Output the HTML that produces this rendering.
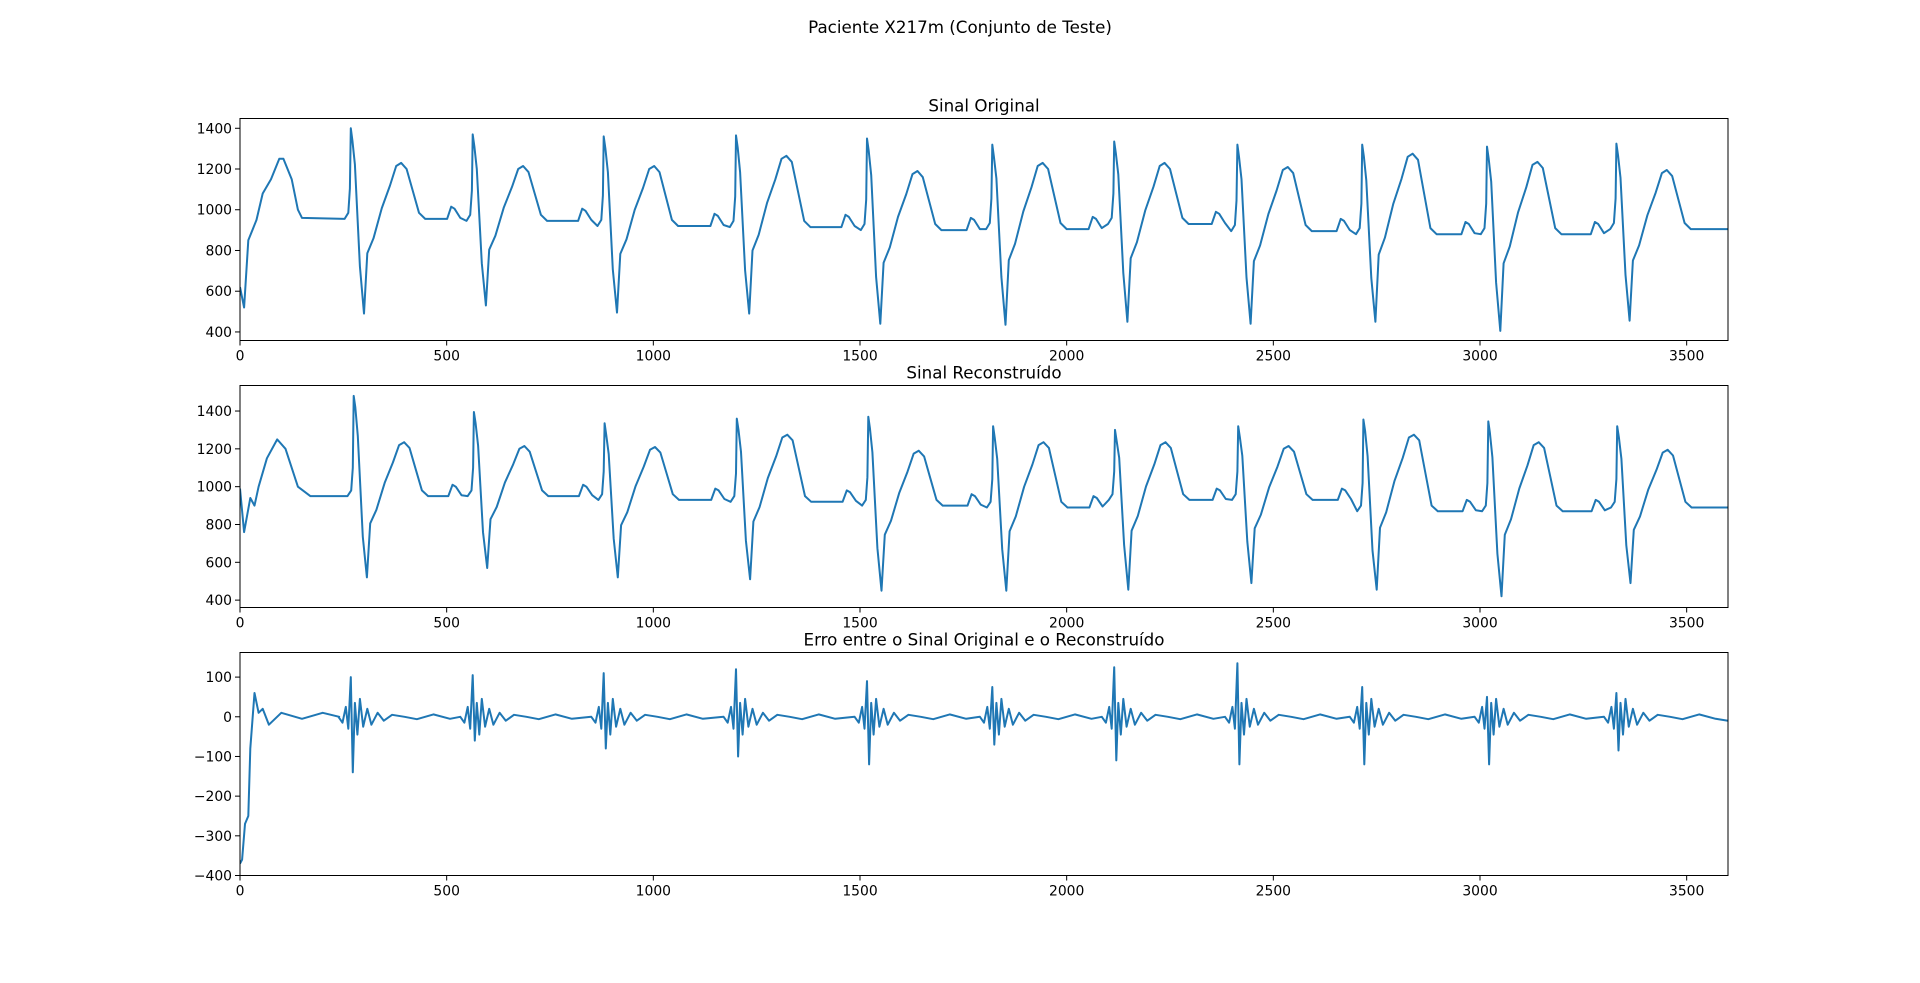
<!DOCTYPE html>
<html><head><meta charset="utf-8">
<style>
html,body{margin:0;padding:0;background:#fff;}
svg{display:block;font-family:"DejaVu Sans","Liberation Sans",sans-serif;}
</style></head>
<body>
<svg id="fig" width="1920" height="983" viewBox="0 0 1920 983" xmlns="http://www.w3.org/2000/svg">
<rect width="1920" height="983" fill="#fff"/>
<text x="960" y="33" font-size="16.7" text-anchor="middle">Paciente X217m (Conjunto de Teste)</text>
</svg>
<script>
// ---- data ----
const beatR   = [268,563,880,1200,1517,1820,2115,2413,2715,3017,3330];
const origRv  = [1400,1370,1360,1365,1350,1320,1335,1320,1320,1310,1325];
const origSv  = [490,530,495,490,440,435,450,440,450,405,455];
const origTv  = [1230,1215,1215,1265,1190,1230,1230,1210,1275,1235,1195];
const origBv  = [955,945,920,915,900,905,930,895,880,880,905];
const origStartX = [0,10,20,40,55,75,95,105,125,140,150];
const origStartY = [620,520,850,950,1080,1150,1250,1250,1150,1000,960];
const recRx   = [275,566,882,1202,1520,1822,2117,2415,2718,3020,3332];
const recRv   = [1480,1395,1335,1360,1370,1320,1300,1320,1355,1345,1320];
const recSv   = [520,570,520,510,450,450,455,490,455,420,490];
const recTv   = [1235,1215,1210,1275,1190,1235,1235,1215,1275,1235,1195];
const recBv   = [950,950,930,920,900,890,930,930,870,870,890];
const recStartX = [0,10,25,35,45,65,90,110,140,170];
const recStartY = [990,760,940,900,1000,1150,1250,1200,1000,950];
const errPos  = [100,105,110,120,90,75,125,135,75,50,60];
const errNeg  = [-140,-60,-80,-100,-120,-70,-110,-120,-120,-120,-85];
const errStartX = [0,5,12,20,25,35,45,55,70,100,150,200,240];
const errStartY = [-370,-360,-270,-250,-80,60,10,20,-20,10,-5,10,0];
const ticksX = [0,500,1000,1500,2000,2500,3000,3500];
const ticks1 = [400,600,800,1000,1200,1400];
const ticks3 = [-400,-300,-200,-100,0,100];

// ---- series builders ----
function ecg(Rx,Rv,Sv,Tv,Bv,sx,sy){
  const X=[...sx],Y=[...sy];
  for(let i=0;i<Rx.length;i++){
    const r=Rx[i],R=Rv[i],S=Sv[i],T=Tv[i],b=Bv[i];
    const pb=i>0?Bv[i-1]:b;
    if(i>0){[[-62,pb],[-52,pb+60],[-44,pb+50],[-30,pb+5]].forEach(p=>{X.push(r+p[0]);Y.push(p[1]);});}
    const tpl=[[-15,b],[-6,b+30],[-2,b+150],[0,R],[4,R-60],[10,b+0.6*(R-b)],[22,(b+S)/2],[32,S],
      [40,S+0.4*(T-S)],[55,S+0.5*(T-S)],[75,S+0.7*(T-S)],[95,S+0.85*(T-S)],[110,T-15],[122,T],
      [135,T-30],[150,b+0.5*(T-b)],[165,b+30],[180,b]];
    tpl.forEach(p=>{X.push(r+p[0]);Y.push(p[1]);});
  }
  X.push(3600);Y.push(Bv[Bv.length-1]);
  return [X,Y];
}
function err(){
  const X=[...errStartX],Y=[...errStartY];
  const off=[-30,-20,-12,-6,0,5,10,16,22,30,40,50,65,80,100,130,160,200,240];
  for(let i=0;i<beatR.length;i++){
    const v=[0,-15,25,-30,errPos[i],errNeg[i],35,-45,45,-25,20,-20,10,-10,5,0,-6,6,-5];
    off.forEach((o,k)=>{X.push(beatR[i]+o);Y.push(v[k]);});
  }
  X.push(3600);Y.push(-10);
  return [X,Y];
}

// ---- drawing ----
const NS="http://www.w3.org/2000/svg";
const fig=document.getElementById('fig');
function el(t,a,p){const e=document.createElementNS(NS,t);for(const k in a)e.setAttribute(k,a[k]);(p||fig).appendChild(e);return e;}
const L=240,Rr=1728;
function axes(name,top,bot,ymin,ymax,yt,title,XY){
  const g=el('g',{});
  
  
  const sx=v=>L+(v/3600)*(Rr-L);
  const sy=v=>bot-(v-ymin)/(ymax-ymin)*(bot-top);
  const t=el('text',{x:(L+Rr)/2,y:top-7,'font-size':16.7,'text-anchor':'middle'},g);
  t.textContent=title;
  
  
  const cid='c'+name;
  const cp=el('clipPath',{id:cid},g);el('rect',{x:L,y:top,width:Rr-L,height:bot-top},cp);
  const [X,Y]=XY;
  const line=el('polyline',{points:X.map((x,i)=>sx(x).toFixed(1)+','+sy(Y[i]).toFixed(1)).join(' '),fill:'none',stroke:'#1f77b4','stroke-width':2,'stroke-linejoin':'round','clip-path':'url(#'+cid+')'},g);
  
  
  ticksX.forEach(v=>{const x=sx(v);el('line',{x1:x,x2:x,y1:bot,y2:bot+5,stroke:'#000','stroke-width':1},g);
    const tx=el('text',{x:x,y:bot+20,'font-size':13.9,'text-anchor':'middle'},g);tx.textContent=v;
    
    });
  yt.forEach(v=>{const y=sy(v);el('line',{x1:L-5,x2:L,y1:y,y2:y,stroke:'#000','stroke-width':1},g);
    const ty=el('text',{x:L-8,y:y+5,'font-size':13.9,'text-anchor':'end'},g);ty.textContent=v<0?'\u2212'+(-v):v;
    
    });
  el('rect',{x:L,y:top,width:Rr-L,height:bot-top,fill:'none',stroke:'#000','stroke-width':1},g);
}
axes('original-signal-panel',118.5,340.5,358,1448,ticks1,'Sinal Original',ecg(beatR,origRv,origSv,origTv,origBv,origStartX,origStartY));
axes('reconstructed-signal-panel',385.5,607.5,361,1535,ticks1,'Sinal Reconstruído',ecg(recRx,recRv,recSv,recTv,recBv,recStartX,recStartY));
axes('error-panel',652.5,875.5,-400,162,ticks3,'Erro entre o Sinal Original e o Reconstruído',err());
</script>
</body></html>
